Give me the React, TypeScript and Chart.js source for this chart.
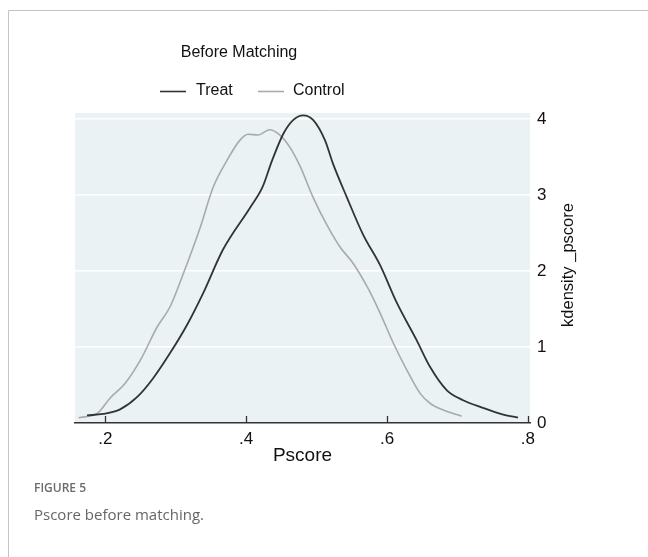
import React, { useEffect, useRef } from "react";
import { Chart, registerables } from "chart.js";

Chart.register(...registerables);

const treatX = [0.174, 0.197, 0.221, 0.245, 0.268, 0.292, 0.316, 0.339, 0.367, 0.406, 0.423, 0.437, 0.453, 0.467, 0.481, 0.495, 0.512, 0.523, 0.543, 0.566, 0.59, 0.614, 0.642, 0.661, 0.685, 0.708, 0.736, 0.765, 0.786];
const treatDensity = [0.1, 0.12, 0.18, 0.34, 0.59, 0.92, 1.29, 1.71, 2.28, 2.84, 3.1, 3.46, 3.81, 3.99, 4.05, 3.99, 3.72, 3.42, 2.97, 2.48, 2.08, 1.58, 1.09, 0.74, 0.43, 0.3, 0.2, 0.11, 0.07];

const controlX = [0.162, 0.189, 0.207, 0.228, 0.25, 0.274, 0.292, 0.311, 0.335, 0.353, 0.373, 0.391, 0.403, 0.417, 0.433, 0.448, 0.462, 0.477, 0.495, 0.515, 0.533, 0.552, 0.572, 0.59, 0.609, 0.628, 0.647, 0.661, 0.68, 0.706];
const controlDensity = [0.07, 0.13, 0.33, 0.52, 0.83, 1.27, 1.53, 1.97, 2.58, 3.1, 3.46, 3.72, 3.8, 3.79, 3.86, 3.79, 3.63, 3.37, 2.97, 2.6, 2.32, 2.1, 1.79, 1.45, 1.05, 0.7, 0.39, 0.26, 0.17, 0.09];

const xTicks = [0.2, 0.4, 0.6, 0.8];
const yTicks = [0, 1, 2, 3, 4];
const seriesNames = ["Treat", "Control"];
const seriesColors = ["#333333", "#aaaaaa"];

const chartTitle = "Before Matching";
const xTitle = "Pscore";
const yTitle = "kdensity _pscore";
const figureLabel = "FIGURE 5";
const figureCaption = "Pscore before matching.";

const FONT = "'Liberation Sans', Arial, sans-serif";

const decorPlugin = {
  id: "decor",
  beforeDraw(chart: any) {
    const { ctx, chartArea, width, height } = chart;
    ctx.save();
    ctx.fillStyle = "#ffffff";
    ctx.fillRect(0, 0, width, height);
    ctx.fillStyle = "#eaf2f3";
    ctx.fillRect(chartArea.left, chartArea.top, chartArea.right - chartArea.left, chartArea.bottom - chartArea.top);
    ctx.strokeStyle = "#c4c4c4";
    ctx.lineWidth = 1;
    ctx.beginPath();
    ctx.moveTo(8.5, height);
    ctx.lineTo(8.5, 10.5);
    ctx.lineTo(width, 10.5);
    ctx.stroke();
    ctx.restore();
  },
  afterDraw(chart: any) {
    const { ctx, chartArea } = chart;
    const xs = chart.scales.x;
    ctx.save();
    ctx.strokeStyle = "#333333";
    ctx.lineWidth = 1.3;
    xTicks.forEach((v) => {
      const px = Math.round(xs.getPixelForValue(v)) + 0.5;
      ctx.beginPath();
      ctx.moveTo(px, chartArea.bottom);
      ctx.lineTo(px, chartArea.bottom - 7);
      ctx.stroke();
    });
    ctx.fillStyle = "#111111";
    ctx.textBaseline = "middle";
    ctx.textAlign = "center";
    ctx.font = `16px ${FONT}`;
    ctx.fillText(chartTitle, 239, 53);
    const legend = [
      { x: 160, tx: 196 },
      { x: 258, tx: 293 },
    ];
    legend.forEach((l, i) => {
      ctx.strokeStyle = seriesColors[i];
      ctx.lineWidth = 1.6;
      ctx.beginPath();
      ctx.moveTo(l.x, 91.5);
      ctx.lineTo(l.x + 26, 91.5);
      ctx.stroke();
      ctx.textAlign = "left";
      ctx.fillStyle = "#111111";
      ctx.font = `16px ${FONT}`;
      ctx.fillText(seriesNames[i], l.tx, 91);
    });
    ctx.textAlign = "center";
    ctx.font = `19px ${FONT}`;
    ctx.fillText(xTitle, (chartArea.left + chartArea.right) / 2, 456);
    ctx.save();
    ctx.translate(568, 265);
    ctx.rotate(-Math.PI / 2);
    ctx.font = `16.5px ${FONT}`;
    ctx.fillText(yTitle, 0, 0);
    ctx.restore();
    ctx.textAlign = "left";
    ctx.fillStyle = "#6b6b6b";
    ctx.font = `600 12px 'Open Sans', sans-serif`;
    ctx.fillText(figureLabel, 34, 489);
    ctx.fillStyle = "#666666";
    ctx.font = `15px 'Open Sans', sans-serif`;
    ctx.fillText(figureCaption, 34, 516);
    ctx.restore();
  },
};

export default function App() {
  const ref = useRef<HTMLCanvasElement | null>(null);
  useEffect(() => {
    document.body.style.margin = "0";
    if (!ref.current) return;
    const chart = new Chart(ref.current, {
      type: "line",
      data: {
        datasets: [
          {
            label: seriesNames[0],
            data: treatX.map((x, i) => ({ x, y: treatDensity[i] })),
            borderColor: seriesColors[0],
            borderWidth: 1.8,
            pointRadius: 0,
            cubicInterpolationMode: "monotone",
            fill: false,
          },
          {
            label: seriesNames[1],
            data: controlX.map((x, i) => ({ x, y: controlDensity[i] })),
            borderColor: seriesColors[1],
            borderWidth: 1.6,
            pointRadius: 0,
            cubicInterpolationMode: "monotone",
            fill: false,
          },
        ],
      },
      options: {
        animation: false,
        responsive: false,
        layout: { padding: { left: 75, top: 113, right: 0, bottom: 0 } },
        plugins: { legend: { display: false }, title: { display: false }, tooltip: { enabled: false } },
        scales: {
          x: {
            type: "linear",
            min: 0.157,
            max: 0.803,
            afterBuildTicks: (s: any) => {
              s.ticks = xTicks.map((v) => ({ value: v }));
            },
            afterFit: (s: any) => {
              s.height = 134;
            },
            grid: { display: false, drawTicks: false },
            border: { display: true, color: "#333333", width: 1.5 },
            ticks: {
              padding: 6,
              maxRotation: 0,
              color: "#111111",
              font: { family: FONT, size: 17 },
              callback: (v: any) => String(Number(v).toFixed(1)).replace(/^0/, ""),
            },
          },
          y: {
            type: "linear",
            position: "right",
            min: 0,
            max: 4.08,
            afterBuildTicks: (s: any) => {
              s.ticks = yTicks.map((v) => ({ value: v }));
            },
            afterFit: (s: any) => {
              s.width = 118;
            },
            grid: {
              drawTicks: false,
              lineWidth: 1.5,
              color: (c: any) => (c.tick && c.tick.value === 0 ? "rgba(0,0,0,0)" : "#ffffff"),
            },
            border: { display: false },
            ticks: {
              padding: 7,
              color: "#111111",
              font: { family: FONT, size: 17 },
              callback: (v: any) => String(v),
            },
          },
        },
      },
      plugins: [decorPlugin],
    });
    return () => chart.destroy();
  }, []);
  return <canvas ref={ref} width={648} height={557} style={{ display: "block", width: 648, height: 557 }} />;
}
